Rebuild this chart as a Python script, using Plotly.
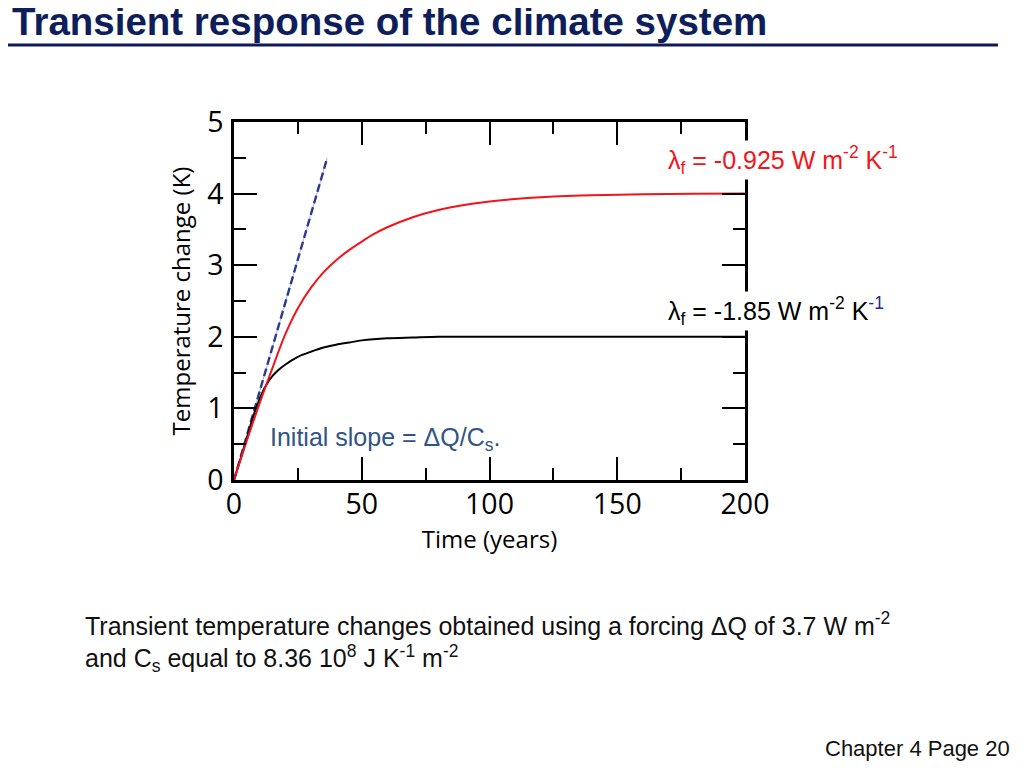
import plotly.graph_objects as go

# ---- data ----
red_t = [0, 5, 10, 15, 20, 25, 30, 35, 40, 45, 50, 55, 60, 70, 80, 90, 100, 110, 120, 130, 140, 160, 180, 200]
red_T = [0, 0.55, 1.07, 1.56, 2.03, 2.40, 2.68, 2.90, 3.07, 3.21, 3.33, 3.44, 3.53, 3.67, 3.77, 3.84, 3.89, 3.925,
         3.95, 3.967, 3.978, 3.99, 3.997, 4.0]

black_t = [0, 2.5, 5, 7.5, 10, 12.5, 15, 17.5, 20, 25, 30, 35, 40, 45, 50, 60, 70, 80, 100, 150, 200]
black_T = [0, 0.29, 0.58, 0.88, 1.13, 1.32, 1.45, 1.54, 1.61, 1.72, 1.79, 1.85, 1.89, 1.92, 1.95, 1.98, 1.99, 2.0,
           2.0, 2.0, 2.0]

slope_t = [0, 36.5]
slope_T = [0, 4.5]

x_ticks = [0, 50, 100, 150, 200]
y_ticks = [0, 1, 2, 3, 4, 5]

TICK_FONT = "Open Sans"
TXT_FONT = "Liberation Sans, Arial"

# The page body adds an 8px margin, so the figure is 8px smaller and shifted
OFF = 8
W, H = 1024 - OFF, 768 - OFF
L, R, T, B = 234 - OFF, 279, 122 - OFF, 288
pw, ph = W - L - R, H - T - B


def px(x):
    return (x - OFF - L) / pw


def py(y):
    return (H - B - (y - OFF)) / ph


fig = go.Figure()

fig.add_trace(go.Scatter(x=slope_t, y=slope_T, mode="lines",
                         line=dict(color="#A9B6E0", width=1), hoverinfo="skip", showlegend=False))
fig.add_trace(go.Scatter(x=slope_t, y=slope_T, mode="lines",
                         line=dict(color="#2B3A8F", width=2.4, dash="8px,4px"), showlegend=False))
fig.add_trace(go.Scatter(x=black_t, y=black_T, mode="lines",
                         line=dict(color="black", width=2, shape="spline", smoothing=0.8), showlegend=False))
fig.add_trace(go.Scatter(x=red_t, y=red_T, mode="lines",
                         line=dict(color="#F2141B", width=2, shape="spline", smoothing=0.8), showlegend=False))

axis_common = dict(
    showline=True, linecolor="black", linewidth=2.5, mirror="allticks",
    ticks="inside", ticklen=23, tickwidth=2, tickcolor="black",
    showgrid=False, zeroline=False,
    tickfont=dict(family=TICK_FONT, size=28.5, color="black"),
)

fig.update_xaxes(range=[0, 200], tickvals=x_ticks,
                 minor=dict(ticks="inside", ticklen=12, tickwidth=2, tickcolor="black", dtick=25, showgrid=False),
                 title=dict(text="Time (years)", font=dict(family=TICK_FONT, size=24, color="black"), standoff=6),
                 ticklabelstandoff=-3,
                 **axis_common)
fig.update_yaxes(range=[0, 5], tickvals=y_ticks,
                 minor=dict(ticks="inside", ticklen=12, tickwidth=2, tickcolor="black", dtick=0.5, showgrid=False),
                 title=dict(text="Temperature change (K)", font=dict(family=TICK_FONT, size=24, color="black"), standoff=10),
                 ticklabelstandoff=2,
                 **axis_common)

fig.update_layout(
    width=W, height=H,
    margin=dict(l=L, r=R, t=T, b=B),
    plot_bgcolor="white", paper_bgcolor="white",
    showlegend=False,
)

annotations = [
    dict(text="<b>Transient response of the climate system</b>", x=px(10), y=py(22), xanchor="left", yanchor="middle",
         font=dict(family="Liberation Sans", size=38.5, color="#0E1E5B")),
    dict(text="λ<sub>f</sub> = -0.925 W m<sup>-2</sup> K<sup>-1</sup>", x=px(666), y=py(160), xanchor="left", yanchor="middle",
         font=dict(family=TXT_FONT, size=25, color="#F2141B"), bgcolor="white"),
    dict(text="λ<sub>f</sub> = -1.85 W m<sup>-2</sup> K<sup><span style='color:#1F2A8A'>-1</span></sup>", x=px(666), y=py(311),
         xanchor="left", yanchor="middle",
         font=dict(family=TXT_FONT, size=25, color="black"), bgcolor="white"),
    dict(text="Initial slope = ΔQ/C<sub>s</sub>.", x=px(268), y=py(439), xanchor="left", yanchor="middle",
         font=dict(family=TXT_FONT, size=25, color="#2F5486")),
    dict(text="Transient temperature changes obtained using a forcing ΔQ of 3.7 W m<sup>-2</sup><br>"
              "and C<sub>s</sub> equal to 8.36 10<sup>8</sup> J K<sup>-1</sup> m<sup>-2</sup>",
         x=px(83), y=py(642), xanchor="left", yanchor="middle", align="left",
         font=dict(family=TXT_FONT, size=25, color="#111111")),
    dict(text="Chapter 4 Page 20", x=px(1012), y=py(748), xanchor="right", yanchor="middle",
         font=dict(family=TXT_FONT, size=22, color="#111111")),
]
for a in annotations:
    a.update(xref="paper", yref="paper", showarrow=False)
fig.update_layout(annotations=annotations)

fig.add_shape(type="line", xref="paper", yref="paper", x0=px(0), x1=px(998), y0=py(45), y1=py(45),
              line=dict(color="#0E1A5C", width=3))

fig.write_html("out.html")
